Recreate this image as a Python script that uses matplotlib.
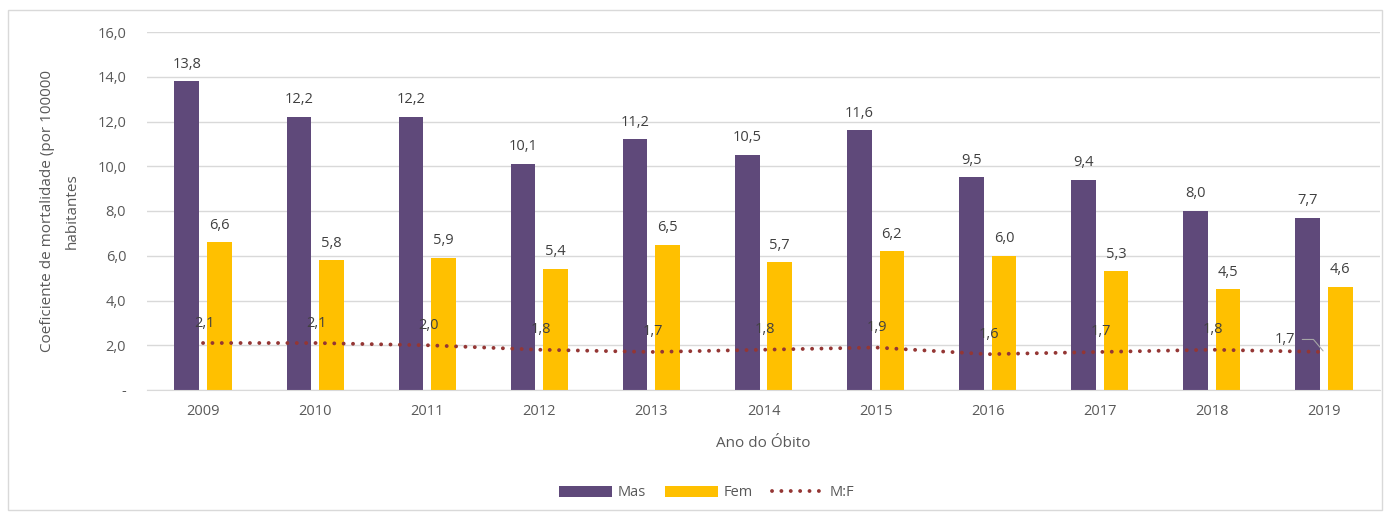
import matplotlib.pyplot as plt
import numpy as np
from matplotlib.patches import Rectangle
from matplotlib.ticker import FuncFormatter

plt.rcParams["font.family"] = ["Open Sans", "DejaVu Sans"]

# Coeficiente de mortalidade por sexo
anos = ["2009", "2010", "2011", "2012", "2013", "2014", "2015", "2016", "2017", "2018", "2019"]
mas = [13.8, 12.2, 12.2, 10.1, 11.2, 10.5, 11.6, 9.5, 9.4, 8.0, 7.7]
fem = [6.6, 5.8, 5.9, 5.4, 6.5, 5.7, 6.2, 6.0, 5.3, 4.5, 4.6]
razao = [2.1, 2.1, 2.0, 1.8, 1.7, 1.8, 1.9, 1.6, 1.7, 1.8, 1.7]

cor_mas = "#5F497A"
cor_fem = "#FFC000"
cor_razao = "#943634"
cor_texto = "#404040"
cor_eixo = "#595959"
fs = 10.5


def fmt_virgula(v):
    return f"{v:.1f}".replace(".", ",")


fig = plt.figure(figsize=(13.9, 5.16), dpi=100)
ax = fig.add_axes([147 / 1390, 1 - 390 / 516, (1380 - 147) / 1390, (390 - 32) / 516])

# moldura externa do gráfico
fig.patches.append(Rectangle((8 / 1390, 6 / 516), 1374 / 1390, 500 / 516,
                             transform=fig.transFigure, fill=False,
                             edgecolor="#d9d9d9", linewidth=1))

x = np.arange(len(anos))
largura = 0.22
desloc = 0.145

b_mas = ax.bar(x - desloc, mas, largura, color=cor_mas, label="Mas", zorder=2)
b_fem = ax.bar(x + desloc, fem, largura, color=cor_fem, label="Fem", zorder=2)
l_razao, = ax.plot(x, razao, linestyle=(0, (0.01, 2.4)), linewidth=2.8, color=cor_razao,
                   dash_capstyle="round", label="M:F", zorder=3)

for xi, v in zip(x - desloc, mas):
    ax.annotate(fmt_virgula(v), (xi, v), xytext=(0, 7), textcoords="offset points",
                ha="center", va="bottom", fontsize=fs, color=cor_texto)
for xi, v in zip(x + desloc, fem):
    ax.annotate(fmt_virgula(v), (xi, v), xytext=(0, 7), textcoords="offset points",
                ha="center", va="bottom", fontsize=fs, color=cor_texto)
for i, v in enumerate(razao):
    if i == len(razao) - 1:
        # último rótulo deslocado para a esquerda, com linha guia
        ax.annotate(fmt_virgula(v), (x[i], v), xytext=(-28, 9), textcoords="offset points",
                    ha="center", va="center", fontsize=fs, color=cor_texto,
                    arrowprops=dict(arrowstyle="-", color="#a6a6a6", lw=0.8,
                                    shrinkA=3, shrinkB=1,
                                    connectionstyle="angle,angleA=0,angleB=130,rad=0"))
    else:
        ax.annotate(fmt_virgula(v), (x[i], v), xytext=(1, 9), textcoords="offset points",
                    ha="center", va="bottom", fontsize=fs, color=cor_texto)

ax.set_xlim(-0.5, len(anos) - 0.5)
ax.set_ylim(0, 16)
ax.set_yticks(np.arange(0, 16.1, 2))
ax.yaxis.set_major_formatter(FuncFormatter(lambda v, p: "-" if v == 0 else fmt_virgula(v)))
ax.set_xticks(x)
ax.set_xticklabels(anos)
ax.tick_params(axis="both", length=0, labelsize=fs, labelcolor=cor_eixo)
ax.tick_params(axis="x", pad=10)
ax.tick_params(axis="y", pad=15)

ax.grid(axis="y", color="#d9d9d9", linewidth=1, zorder=0)
ax.set_axisbelow(True)
for lado in ["top", "right", "left"]:
    ax.spines[lado].set_visible(False)
ax.spines["bottom"].set_color("#d9d9d9")

ax.set_xlabel("Ano do Óbito", fontsize=11, color=cor_eixo, labelpad=12)

# título do eixo y em duas linhas centradas
meio_y = 1 - 211 / 516
fig.text(48 / 1390, meio_y, "Coeficiente de mortalidade (por 100000", rotation=90,
         ha="center", va="center", fontsize=11, color=cor_eixo)
fig.text(72 / 1390, meio_y, "habitantes", rotation=90,
         ha="center", va="center", fontsize=11, color=cor_eixo)

leg = fig.legend(handles=[b_mas, b_fem, l_razao], loc="center",
                 bbox_to_anchor=(707 / 1390, 1 - 493 / 516), ncol=3,
                 frameon=False, fontsize=fs, handlelength=3.6, handleheight=0.7,
                 columnspacing=1.3, handletextpad=0.4)
for t in leg.get_texts():
    t.set_color(cor_eixo)

fig.savefig("out.png", dpi=100)
